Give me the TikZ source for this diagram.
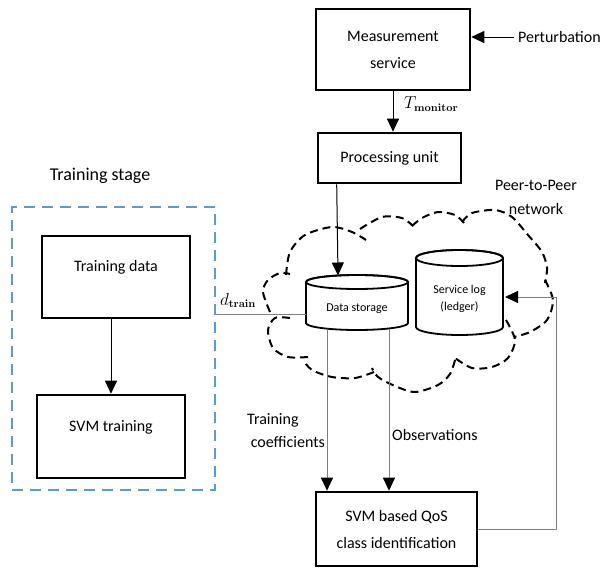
\documentclass[tikz,border=0pt]{standalone}
\usepackage[no-math]{fontspec}
\setmainfont{Carlito}
\usetikzlibrary{arrows.meta,calc}
\definecolor{stageblue}{HTML}{5B9BD5}
\definecolor{linegray}{HTML}{7F7F7F}
\newcommand\labfont{\fontsize{16}{27}\selectfont}
\newcommand\smallfont{\fontsize{12}{17}\selectfont}
\tikzset{
  box/.style={draw, line width=2.6pt, inner sep=2pt, align=center, font=\labfont},
  txt/.style={inner sep=1pt, align=center, font=\labfont},
  cyl/.style={draw, line width=1.8pt, fill=white},
  arr/.style={draw=black, line width=1pt, -{Triangle[length=13pt,width=12pt]}},
  garr/.style={draw=linegray, line width=1pt, -{Triangle[length=13pt,width=12pt,black]}},
  gline/.style={draw=linegray, line width=1pt},
  cloudline/.style={line width=2pt, dash pattern=on 8pt off 5pt, line cap=butt},
  stagebox/.style={draw=stageblue, line width=2pt, dash pattern=on 11pt off 7pt},
}
\begin{document}
\begin{tikzpicture}[x=1pt,y=-1pt]
\useasboundingbox (0,0) rectangle (606,568);

% ---------- training stage ----------
\node[txt, font=\fontsize{18}{22}\selectfont] (stagetitle) at (100,176) {Training stage};
\node[stagebox, minimum width=203pt, minimum height=283pt] (stage) at (113.5,348.5) {};
\node[box, minimum width=148pt, minimum height=82pt] (td) at (116,277) {};
\node[txt] (tdt) at (116,267) {Training data};
\node[box, minimum width=148pt, minimum height=83pt] (svm) at (111,436.5) {};
\node[txt] (svmt) at (111,427) {SVM training};
\draw[arr] (svm.north |- td.south) -- (svm.north);

% ---------- monitoring chain ----------
\node[box, minimum width=154pt, minimum height=81pt] (ms) at (393,49.5) {Measurement\\service};
\node[txt, anchor=west, inner sep=4pt] (pert) at (514,37) {Perturbation};
\draw[arr] (pert.west) -- (pert.west -| ms.east);
\node[box, minimum width=143pt, minimum height=50pt] (pu) at (389.5,158) {Processing unit};
\draw[arr] (ms.south) -- (ms.south |- pu.north);
\node[txt, anchor=west] (tmon) at (403,104) {$T_{\mathbf{monitor}}$};

% ---------- peer-to-peer cloud ----------
\draw[cloudline] plot[smooth] coordinates {(286,275) (290,252) (305,235) (332,227) (352,232) (366,240)};
\draw[cloudline] plot[smooth] coordinates {(360,229) (382,217) (402,218) (413,226)};
\draw[cloudline] plot[smooth] coordinates {(412,226) (422,218) (438,212) (455,215) (464,223)};
\draw[cloudline] plot[smooth] coordinates {(462,222) (472,213) (495,210) (512,217) (528,235) (542,252) (547,268) (545,283)};
\draw[cloudline] plot[smooth] coordinates {(545,280) (553,300) (547,320) (530,332) (514,337)};
\draw[cloudline] plot[smooth] coordinates {(506,320) (515,340) (508,358) (492,367) (472,368) (455,358)};
\draw[cloudline] plot[smooth] coordinates {(455,360) (450,374) (438,385) (415,392) (395,386) (378,377) (372,368)};
\draw[cloudline] plot[smooth] coordinates {(374,372) (355,378) (332,377) (312,370) (303,360)};
\draw[cloudline] plot[smooth] coordinates {(308,357) (288,357) (273,348) (268,330) (275,318) (290,318)};
\draw[cloudline] plot[smooth] coordinates {(270,312) (263,292) (268,280) (280,273) (290,274)};
\node[txt, font=\fontsize{16}{24}\selectfont] (p2p) at (536,197) {Peer-to-Peer\\network};

% ---------- data storage cylinder ----------
\path[cyl] (306,282) -- (306,323) arc[start angle=180, end angle=360, x radius=51pt, y radius=7pt]
  -- (408,282) arc[start angle=0, end angle=180, x radius=51pt, y radius=7pt] -- cycle;
\draw[line width=1.8pt] (357,282) ellipse [x radius=51pt, y radius=7pt];
\node[txt, font=\smallfont] (dst) at (357,309) {Data storage};
\coordinate (dsin) at (338,275.5);
\coordinate (dsl) at (306,314);
\coordinate (dsb1) at (327,329);
\coordinate (dsb2) at (389,329);

% ---------- service log cylinder ----------
\path[cyl] (416,258) -- (416,327) arc[start angle=180, end angle=360, x radius=43.5pt, y radius=8pt]
  -- (503,258) arc[start angle=0, end angle=180, x radius=43.5pt, y radius=8pt] -- cycle;
\draw[line width=1.8pt] (459.5,258) ellipse [x radius=43.5pt, y radius=8pt];
\node[txt, font=\smallfont] (slt) at (459.5,298.5) {Service log\\(ledger)};
\coordinate (slin) at (505,297);
\coordinate (fb) at (556,297);

% ---------- connectors into the cloud ----------
\draw[arr] ([xshift=20pt]pu.south west) -- (dsin);
\draw[gline] (stage.east |- dsl) -- (dsl);
\node[txt, anchor=south] (dtr) at (238,309) {$d_{\mathbf{train}}$};

% ---------- classification ----------
\node[box, minimum width=161pt, minimum height=74pt] (qos) at (396.5,529) {SVM based QoS\\class identification};
\draw[garr] (dsb1) -- (dsb1 |- qos.north);
\draw[garr] (dsb2) -- (dsb2 |- qos.north);
\node[txt, anchor=west, align=left, font=\fontsize{16}{23}\selectfont] (tc) at (246,431) {Training\\\ coefficients};
\node[txt, anchor=west] (obs) at (391,435) {Observations};
\draw[garr] (qos.east) -| (fb) -- (slin);
\end{tikzpicture}
\end{document}
